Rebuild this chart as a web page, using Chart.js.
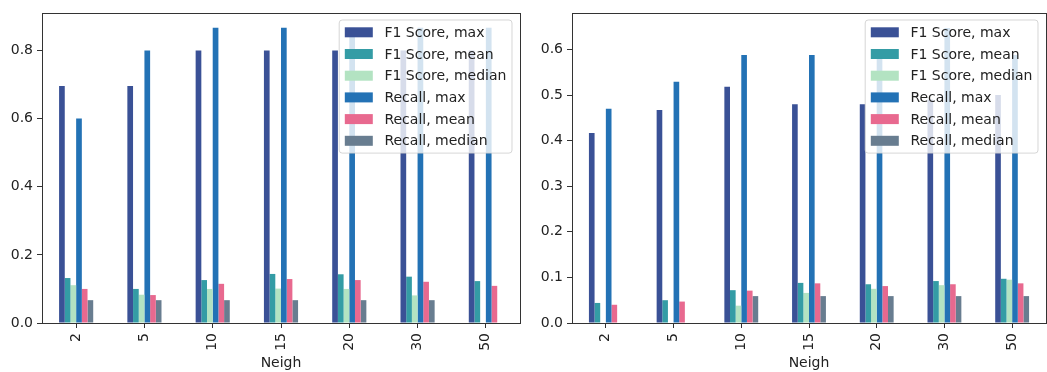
<!DOCTYPE html>
<html>
<head>
<meta charset="utf-8">
<script src="https://cdn.jsdelivr.net/npm/chart.js@4.4.1/dist/chart.umd.min.js"></script>
<style>
  html, body { margin: 0; padding: 0; background: #fff; }
  #wrap { position: relative; width: 1047px; height: 372px; }
  .box { position: absolute; top: 0; height: 372px; }
</style>
</head>
<body>
<div id="wrap">
  <div class="box" style="left:0;width:525px"><canvas id="left" width="525" height="372"></canvas></div>
  <div class="box" style="left:525px;width:522px"><canvas id="right" width="522" height="372"></canvas></div>
</div>
<script>
const neigh = ['2', '5', '10', '15', '20', '30', '50'];
const seriesNames = ['F1 Score, max', 'F1 Score, mean', 'F1 Score, median', 'Recall, max', 'Recall, mean', 'Recall, median'];
const seriesColors = ['#3a5196', '#349ca5', '#b3e3c2', '#2372b5', '#e8698f', '#687d90'];

// left panel
const leftF1Max = [0.696, 0.696, 0.8, 0.8, 0.8, 0.8, 0.8];
const leftF1Mean = [0.132, 0.1, 0.126, 0.144, 0.143, 0.136, 0.123];
const leftF1Median = [0.111, 0.083, 0.1, 0.101, 0.1, 0.081, 0];
const leftRecallMax = [0.6, 0.8, 0.867, 0.867, 0.867, 0.867, 0.867];
const leftRecallMean = [0.1, 0.082, 0.115, 0.129, 0.126, 0.121, 0.109];
const leftRecallMedian = [0.067, 0.067, 0.067, 0.067, 0.067, 0.067, 0];

// right panel
const rightF1Max = [0.417, 0.467, 0.518, 0.48, 0.48, 0.49, 0.5];
const rightF1Mean = [0.044, 0.05, 0.072, 0.088, 0.085, 0.092, 0.097];
const rightF1Median = [0, 0, 0.038, 0.066, 0.075, 0.083, 0.095];
const rightRecallMax = [0.47, 0.529, 0.588, 0.588, 0.588, 0.647, 0.588];
const rightRecallMean = [0.04, 0.047, 0.071, 0.087, 0.081, 0.085, 0.087];
const rightRecallMedian = [0, 0, 0.059, 0.059, 0.059, 0.059, 0.059];

const FONT = 'DejaVu Sans';
const INK = '#222';

// frame around the plot + matplotlib-like legend inside the axes
const boxLegend = {
  id: 'boxLegend',
  afterDatasetsDraw(chart) {
    const { ctx, chartArea: a } = chart;
    ctx.save();
    ctx.strokeStyle = '#333';
    ctx.lineWidth = 1;
    ctx.strokeRect(Math.round(a.left) + 0.5, Math.round(a.top) + 0.5,
      Math.round(a.right - a.left), Math.round(a.bottom - a.top));

    ctx.font = '14px "' + FONT + '"';
    const ds = chart.data.datasets;
    const textW = Math.max(...ds.map(d => ctx.measureText(d.label).width));
    const padL = 5.6, sw = 28, gap = 11.6, row = 21.7, edge = 12.3;
    const w = padL + sw + gap + textW + 5.6;
    const h = edge * 2 + row * (ds.length - 1);
    const x = a.right - 8 - w;
    const y = a.top + 7;
    ctx.beginPath();
    ctx.roundRect(x, y, w, h, 3);
    ctx.fillStyle = 'rgba(255,255,255,0.8)';
    ctx.fill();
    ctx.strokeStyle = 'rgba(204,204,204,0.8)';
    ctx.stroke();
    ctx.textBaseline = 'middle';
    ds.forEach((d, i) => {
      const cy = y + edge + i * row;
      ctx.fillStyle = d.backgroundColor;
      ctx.fillRect(x + padL, cy - 5, sw, 10);
      ctx.fillStyle = INK;
      ctx.fillText(d.label, x + padL + sw + gap, cy + 1);
    });
    ctx.restore();
  }
};

function makeChart(id, series, yMax, yStep, yWidth) {
  new Chart(document.getElementById(id), {
    type: 'bar',
    data: {
      labels: neigh,
      datasets: series.map((vals, i) => ({
        label: seriesNames[i],
        data: vals,
        backgroundColor: seriesColors[i],
        categoryPercentage: 0.5,
        barPercentage: 1.0,
      })),
    },
    options: {
      responsive: false,
      animation: false,
      layout: { padding: { top: 13, right: id === 'left' ? 5 : 1, left: 0, bottom: 0 } },
      plugins: { legend: { display: false }, tooltip: { enabled: false } },
      scales: {
        x: {
          grid: { offset: false, drawOnChartArea: false, color: '#333', tickLength: 5 },
          border: { display: false },
          ticks: { minRotation: 90, maxRotation: 90, padding: 5, color: INK, font: { family: FONT, size: 14 } },
          title: { display: true, text: 'Neigh', color: INK, padding: { top: 0, bottom: 0 }, font: { family: FONT, size: 14 } },
          afterFit(scale) { scale.height = 49; },
        },
        y: {
          min: 0,
          max: yMax,
          grid: { drawOnChartArea: false, color: '#333', tickLength: 5 },
          border: { display: false },
          ticks: {
            stepSize: yStep,
            padding: 4,
            color: INK,
            font: { family: FONT, size: 14 },
            callback: v => v.toFixed(1),
          },
          afterBuildTicks(scale) {
            scale.ticks = scale.ticks.filter(t => t.value < yMax - yStep / 2);
          },
          afterFit(scale) { scale.width = yWidth; },
        },
      },
    },
    plugins: [boxLegend],
  });
}

makeChart('left', [leftF1Max, leftF1Mean, leftF1Median, leftRecallMax, leftRecallMean, leftRecallMedian], 0.91, 0.2, 42);
makeChart('right', [rightF1Max, rightF1Mean, rightF1Median, rightRecallMax, rightRecallMean, rightRecallMedian], 0.68, 0.1, 47);
</script>
</body>
</html>
